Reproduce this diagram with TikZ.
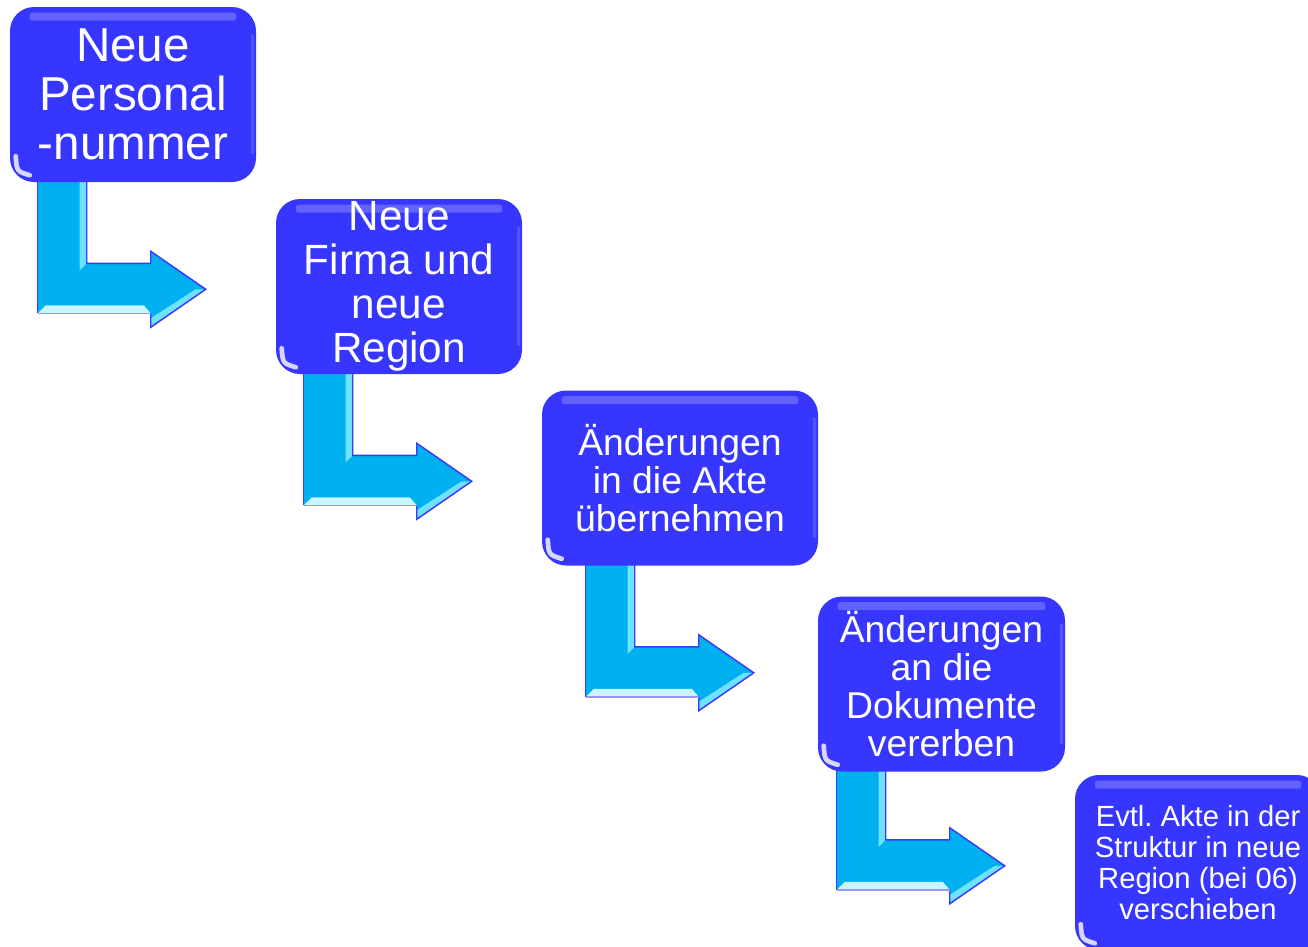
\documentclass[tikz,border=0pt]{standalone}
\usepackage{fontspec}
\setmainfont{Liberation Sans}
\usetikzlibrary{calc,backgrounds}
\definecolor{boxblue}{RGB}{54,54,255}
\definecolor{arrcyan}{RGB}{0,176,240}
\definecolor{edgeblue}{RGB}{58,58,255}
\definecolor{bevlight}{RGB}{110,225,255}
\definecolor{bevwhite}{RGB}{200,245,255}
\definecolor{lavender}{RGB}{150,150,255}
\tikzset{
  stepbox/.style={fill=boxblue, rounded corners=18pt, text=white, align=center,
    inner sep=0pt, minimum height=131.25pt},
  arrowbody/.style={fill=arrcyan},
  arrowedge/.style={draw=edgeblue, line width=1.1pt, line join=miter},
}
\newcommand\bentarrow[4]{% #1 id, #2 from node, #3 x offset (px), #4 drop (px)
  \coordinate (#1s) at ($(#2.south west)+(#3,0)$);
  \coordinate (#1c) at ($(#1s)+(0,#4)$);
  \coordinate (#1t) at ($(#1c)+(168,-24)$);
  \fill[arrowbody] ($(#1s)+(0,-10)$) -- ($(#1s)+(49,-10)$) -- ($(#1c)+(49,-50)$)
    -- ($(#1c)+(113,-50)$) -- ($(#1c)+(113,-62)$) -- (#1t)
    -- ($(#1c)+(113,14)$) -- ($(#1c)+(113,0)$) -- (#1c) -- cycle;
  \fill[bevlight] ($(#1s)+(42,-10)$) -- ($(#1s)+(49,-10)$) -- ($(#1c)+(49,-50)$)
    -- ($(#1c)+(42,-43)$) -- cycle;
  \fill[bevwhite] (#1c) -- ($(#1c)+(113,0)$) -- ($(#1c)+(106,-8)$) -- ($(#1c)+(8,-8)$) -- cycle;
  \fill[bevlight] (#1t) -- ($(#1c)+(113,14)$) -- ($(#1c)+(113,5)$) -- ($(#1t)+(-10,0)$) -- cycle;
  \draw[arrowedge] ($(#1s)+(0,-10)$) -- (#1c);
  \draw[arrowedge] ($(#1s)+(49,-10)$) -- ($(#1c)+(49,-50)$)
    -- ($(#1c)+(113,-50)$) -- ($(#1c)+(113,-62)$) -- (#1t)
    -- ($(#1c)+(113,14)$) -- ($(#1c)+(113,0)$);
  \draw[lavender, line width=1.1pt] ($(#1c)+(113,0)$) -- (#1c);
}
\newcommand\gloss[1]{%
  \fill[white, opacity=.22, rounded corners=2pt] ($(#1.north west)+(20,6)$) rectangle ($(#1.north east)+(-20,14)$);
  \draw[white, opacity=.8, line width=3.5pt, line cap=round]
    ($(#1.south west)+(6,-26)$) .. controls ($(#1.south west)+(7,-11)$) .. ($(#1.south west)+(20,-7)$);
  \draw[white, opacity=.15, line width=2pt]
    ($(#1.north east)+(-4,28)$) -- ($(#1.south east)+(-4,-28)$);
}
\begin{document}
\begin{tikzpicture}[x=0.75pt,y=-0.75pt]
\useasboundingbox (0,0) rectangle (1308,946);
\clip (0,0) rectangle (1308,946);

\node[stepbox, minimum width=184.5pt, font=\fontsize{35.7}{36.75}\selectfont] (b1) at (133,94.5) {Neue\\Personal\\-nummer};
\node[stepbox, minimum width=184.5pt, font=\fontsize{31.7}{33}\selectfont] (b2) at (399,286.5) {Neue\\Firma und\\neue\\Region};
\node[stepbox, minimum width=207pt, font=\fontsize{28}{28.3}\selectfont] (b3) at (680,478) {Änderungen\\in die Akte\\übernehmen};
\node[stepbox, minimum width=185.25pt, font=\fontsize{28}{28.5}\selectfont] (b4) at (941.5,684) {Änderungen\\an die\\Dokumente\\vererben};
\node[stepbox, minimum width=184.5pt, font=\fontsize{21.9}{23.25}\selectfont] (b5) at (1198,862.5) {Evtl.\ Akte in der\\Struktur in neue\\Region (bei 06)\\verschieben};

\foreach \n in {b1,b2,b3,b4,b5} {\gloss{\n}}

\begin{pgfonlayer}{background}
  \bentarrow{a1}{b1}{28}{131}
  \bentarrow{a2}{b2}{28}{131}
  \bentarrow{a3}{b3}{44}{131}
  \bentarrow{a4}{b4}{19}{118}
\end{pgfonlayer}
\end{tikzpicture}
\end{document}
